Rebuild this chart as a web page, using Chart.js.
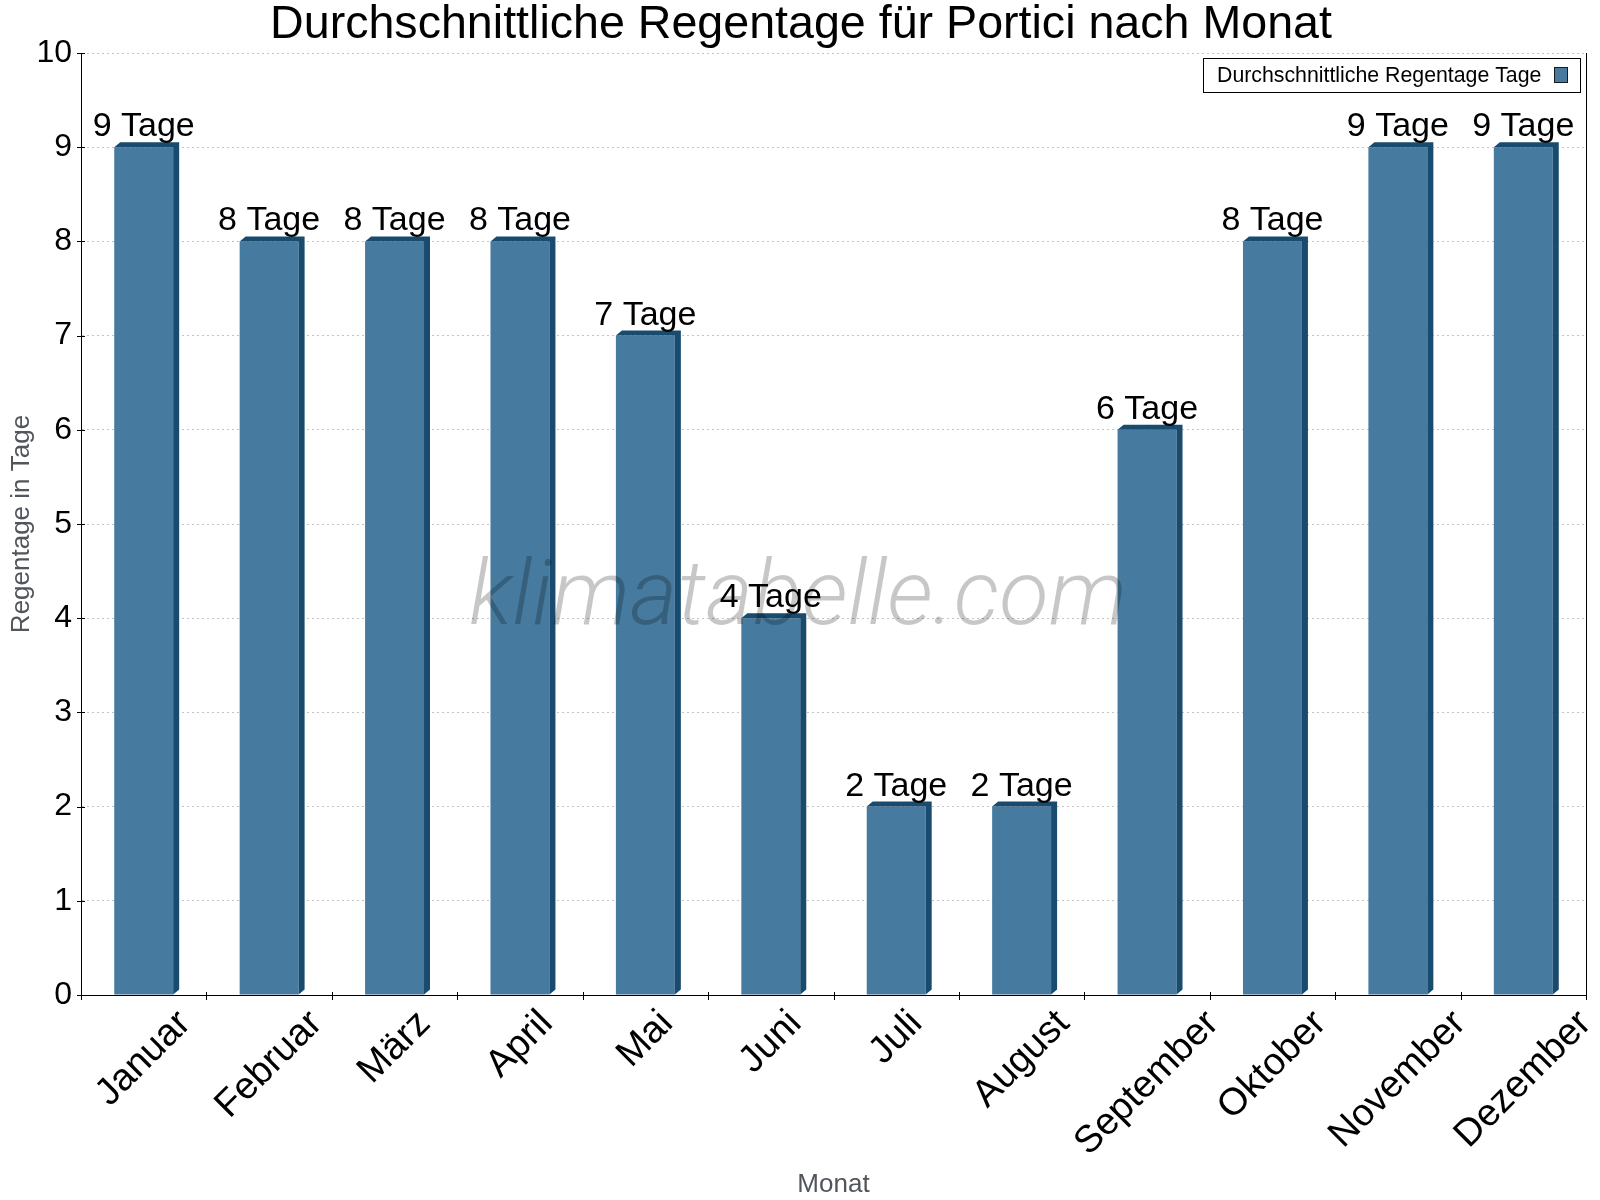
<!DOCTYPE html>
<html><head><meta charset="utf-8">
<script src="https://cdn.jsdelivr.net/npm/chart.js@4.4.0/dist/chart.umd.min.js"></script>
<style>html,body{margin:0;padding:0;background:#fff}canvas{display:block}</style>
</head><body>
<canvas id="c" width="1600" height="1200"></canvas>
<script>
const months = ['Januar','Februar','März','April','Mai','Juni','Juli','August','September','Oktober','November','Dezember'];
const rainDays = [9, 8, 8, 8, 7, 4, 2, 2, 6, 8, 9, 9];
const yTickValues = [0, 1, 2, 3, 4, 5, 6, 7, 8, 9, 10];
const chartTitle = 'Durchschnittliche Regentage für Portici nach Monat';
const seriesLabel = 'Durchschnittliche Regentage Tage';
const unitLabel = 'Tage';
const yAxisTitle = 'Regentage in Tage';
const xAxisTitle = 'Monat';
const watermarkText = 'klimatabelle.com';

const FONT = "'Liberation Sans', Arial, sans-serif";
const FRONT = '#467a9e';
const SIDE = '#184b6e';
const DX = 6, DY = 5;

Chart.defaults.font.family = FONT;

const deco = {
  id: 'deco',
  afterDatasetsDraw(chart) {
    const ctx = chart.ctx;
    const meta = chart.getDatasetMeta(0);
    ctx.save();
    ctx.fillStyle = SIDE;
    meta.data.forEach(bar => {
      const p = bar.getProps(['x', 'y', 'base', 'width'], true);
      const l = p.x - p.width / 2, r = p.x + p.width / 2;
      ctx.beginPath();
      ctx.moveTo(l, p.y);
      ctx.lineTo(l + DX, p.y - DY);
      ctx.lineTo(r + DX, p.y - DY);
      ctx.lineTo(r + DX, p.base - DY);
      ctx.lineTo(r, p.base);
      ctx.lineTo(r, p.y);
      ctx.closePath();
      ctx.fill();
    });
    ctx.font = "italic 300 88px Roboto, " + FONT;
    const w = ctx.measureText(watermarkText).width;
    const size = 88 * 658 / w;
    ctx.font = "italic 300 " + size + "px Roboto, " + FONT;
    ctx.fillStyle = 'rgba(0,0,0,0.22)';
    ctx.textAlign = 'center';
    ctx.textBaseline = 'alphabetic';
    ctx.fillText(watermarkText, 798, 624);
    ctx.font = "34px " + FONT;
    ctx.fillStyle = '#000';
    meta.data.forEach((bar, i) => {
      const p = bar.getProps(['x', 'y'], true);
      ctx.fillText(rainDays[i] + ' ' + unitLabel, p.x, p.y - 11);
    });
    ctx.restore();
  },
  afterDraw(chart) {
    const ctx = chart.ctx;
    const area = chart.chartArea;
    const xs = chart.scales.x, ys = chart.scales.y;
    ctx.save();
    // title
    ctx.font = "46.6px " + FONT;
    ctx.fillStyle = '#000';
    ctx.textAlign = 'center';
    ctx.textBaseline = 'middle';
    ctx.fillText(chartTitle, 801, 25);
    ctx.strokeStyle = '#000';
    ctx.lineWidth = 1;
    ctx.beginPath();
    ctx.moveTo(Math.round(area.right) + 0.5, area.top);
    ctx.lineTo(Math.round(area.right) + 0.5, area.bottom);
    ctx.stroke();
    yTickValues.forEach(v => {
      const py = Math.round(ys.getPixelForValue(v)) + 0.5;
      ctx.beginPath();
      ctx.moveTo(area.left - 4, py);
      ctx.lineTo(area.left + 4, py);
      ctx.stroke();
    });
    const step = (area.right - area.left) / months.length;
    for (let i = 0; i <= months.length; i++) {
      const px = Math.round(xs.getPixelForValue(0) - step / 2 + i * step) + 0.5;
      ctx.beginPath();
      ctx.moveTo(px, area.bottom - 3);
      ctx.lineTo(px, area.bottom + 5);
      ctx.stroke();
    }
    const fs = 38;
    ctx.font = fs + "px " + FONT;
    ctx.fillStyle = '#000';
    ctx.textAlign = 'center';
    ctx.textBaseline = 'middle';
    months.forEach((m, i) => {
      const cx = xs.getPixelForValue(i);
      const L = ctx.measureText(m).width;
      const half = (L + 0.72 * fs) * Math.SQRT1_2 / 2;
      const cy = area.bottom + 13 + half;
      ctx.save();
      ctx.translate(cx, cy);
      ctx.rotate(-Math.PI / 4);
      ctx.fillText(m, 0, 0);
      ctx.restore();
    });
    ctx.lineWidth = 1;
    ctx.strokeRect(1203.5, 58.5, 377, 34);
    ctx.font = "21.3px " + FONT;
    ctx.textAlign = 'left';
    ctx.textBaseline = 'alphabetic';
    ctx.fillText(chart.data.datasets[0].label, 1217, 82);
    ctx.fillStyle = FRONT;
    ctx.fillRect(1554, 67, 14, 16);
    ctx.strokeStyle = '#1a1a1a';
    ctx.strokeRect(1554.5, 67.5, 13, 15);
    ctx.restore();
  }
};

new Chart(document.getElementById('c'), {
  type: 'bar',
  data: {
    labels: months,
    datasets: [{
      label: seriesLabel,
      data: rainDays,
      backgroundColor: FRONT,
      borderWidth: 0,
      categoryPercentage: 1,
      barPercentage: 0.47
    }]
  },
  options: {
    responsive: false,
    devicePixelRatio: 1,
    animation: false,
    layout: { padding: { top: 53, right: 14, bottom: 0, left: 0 } },
    plugins: {
      legend: { display: false },
      tooltip: { enabled: false },
      title: { display: false }
    },
    scales: {
      x: {
        offset: true,
        grid: { display: false, drawTicks: false },
        border: { display: true, color: '#000', width: 1 },
        ticks: { display: false },
        title: {
          display: true, text: xAxisTitle, color: '#51565c',
          font: { size: 26, weight: 'normal' }, padding: { top: 0, bottom: 0 }
        },
        afterFit(s) { s.height = 205; }
      },
      y: {
        min: 0, max: 10,
        afterBuildTicks(s) { s.ticks = yTickValues.map(v => ({ value: v })); },
        grid: { color: '#c4c4c4', lineWidth: 1, drawTicks: false },
        border: { display: true, color: '#000', width: 1, dash: [2, 3] },
        ticks: { color: '#000', font: { size: 32 }, padding: 9 },
        title: {
          display: true, text: yAxisTitle, color: '#51565c',
          font: { size: 26, weight: 'normal' }, padding: { top: 6, bottom: 0 }
        },
        afterFit(s) { s.width = 81; }
      }
    }
  },
  plugins: [deco]
});
</script>
</body></html>
